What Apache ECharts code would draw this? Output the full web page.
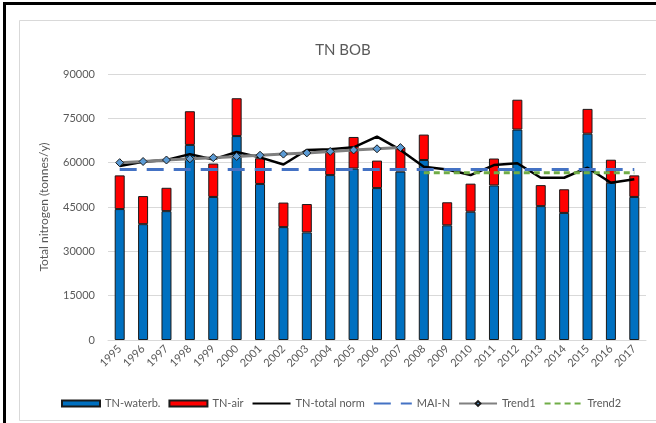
<!DOCTYPE html>
<html>
<head>
<meta charset="utf-8">
<script src="https://cdn.jsdelivr.net/npm/echarts@6/dist/echarts.min.js"></script>
<style>
  html, body { margin: 0; padding: 0; background: #fff; }
  #chart { width: 656px; height: 423px; }
</style>
</head>
<body>
<div id="chart"></div>
<script>
// years on the x axis
const years = ['1995', '1996', '1997', '1998', '1999', '2000', '2001', '2002', '2003', '2004', '2005', '2006',
  '2007', '2008', '2009', '2010', '2011', '2012', '2013', '2014', '2015', '2016', '2017'];

// stacked bars (tonnes/y)
const tnWaterb = [44300, 39200, 43600, 66000, 48400, 69000, 52800, 38200, 36400, 55800, 58000, 51400,
  57000, 60900, 38800, 43400, 52300, 71200, 45300, 43000, 69800, 53200, 48400];
const tnAir = [11400, 9500, 7900, 11400, 11300, 12800, 8700, 8300, 9600, 7900, 10700, 9300,
  8200, 8600, 7800, 9500, 9100, 10100, 7100, 8000, 8400, 7800, 7300];

// lines
const tnTotalNorm = [58900, 60300, 60900, 62900, 61100, 63600, 61800, 59400, 64300, 64500, 65200, 68800,
  64300, 58600, 57700, 55800, 59200, 59800, 54900, 54900, 58300, 53200, 54400];
const maiN = [57700, 57700, 57700, 57700, 57700, 57700, 57700, 57700, 57700, 57700, 57700, 57700,
  57700, 57700, 57700, 57700, 57700, 57700, 57700, 57700, 57700, 57700, 57700];
const trend1 = [60000, 60400, 60900, 61300, 61700, 62100, 62500, 62900, 63300, 63800, 64300, 64700,
  65100, '-', '-', '-', '-', '-', '-', '-', '-', '-', '-'];
const trend2 = ['-', '-', '-', '-', '-', '-', '-', '-', '-', '-', '-', '-',
  '-', 56600, 56600, 56600, 56600, 56600, 56600, 56600, 56600, 56600, 56600];

const yTicks = { min: 0, max: 90000, interval: 15000 };

const font = 'Lato, "Open Sans", sans-serif';
const grey = '#595959';

const chart = echarts.init(document.getElementById('chart'));

// legend entries: bars get a plain rect, lines just the stroke (no dot)
const noDot = { opacity: 0 };
const legendItems = [
  { name: 'TN-waterb.', icon: 'rect' },
  { name: 'TN-air', icon: 'rect' },
  { name: 'TN-total norm', itemStyle: noDot },
  { name: 'MAI-N', itemStyle: noDot },
  { name: 'Trend1' },
  { name: 'Trend2', itemStyle: noDot }
];

const option = {
  animation: false,
  backgroundColor: '#fff',
  textStyle: { fontFamily: font },
  title: {
    text: 'TN BOB',
    left: 338,
    textAlign: 'center',
    top: 38,
    textStyle: { fontFamily: font, fontSize: 15, fontWeight: 'normal', color: grey }
  },
  graphic: [
    // outer black frame
    { type: 'line', shape: { x1: 3, y1: 3.5, x2: 656, y2: 3.5 }, style: { stroke: '#000', lineWidth: 3 } },
    { type: 'line', shape: { x1: 4.5, y1: 2, x2: 4.5, y2: 423 }, style: { stroke: '#000', lineWidth: 3 } },
    // inner chart frame
    { type: 'rect', shape: { x: 19.5, y: 20.5, width: 700, height: 400 }, style: { fill: 'none', stroke: '#d9d9d9', lineWidth: 1 } }
  ],
  legend: {
    left: 56,
    top: 393,
    itemWidth: 38,
    itemHeight: 6,
    itemGap: 8,
    textStyle: { fontFamily: font, fontSize: 11, color: grey },
    data: legendItems
  },
  grid: { left: 108, right: 10, top: 74, bottom: 83 },
  xAxis: {
    type: 'category',
    data: years,
    axisLine: { lineStyle: { color: '#d9d9d9' } },
    axisTick: { show: false },
    axisLabel: { rotate: 45, color: grey, fontSize: 11, fontFamily: font, margin: 7 }
  },
  yAxis: {
    type: 'value',
    min: yTicks.min,
    max: yTicks.max,
    interval: yTicks.interval,
    name: 'Total nitrogen (tonnes/y)',
    nameLocation: 'middle',
    nameGap: 58,
    nameTextStyle: { color: grey, fontSize: 12, fontFamily: font },
    axisLine: { show: false },
    axisTick: { show: false },
    axisLabel: { color: grey, fontSize: 11, fontFamily: font, margin: 13, formatter: v => String(v) },
    splitLine: { lineStyle: { color: '#d9d9d9' } }
  },
  series: [
    {
      name: 'TN-waterb.',
      type: 'bar',
      stack: 'tn',
      data: tnWaterb,
      barWidth: 10,
      itemStyle: { color: '#0070c0', borderColor: '#1a1a1a', borderWidth: 1 }
    },
    {
      name: 'TN-air',
      type: 'bar',
      stack: 'tn',
      data: tnAir,
      barWidth: 10,
      itemStyle: { color: '#ff0000', borderColor: '#1a1a1a', borderWidth: 1 }
    },
    {
      name: 'TN-total norm',
      type: 'line',
      data: tnTotalNorm,
      symbol: 'none',
      lineStyle: { color: '#000', width: 2.5 },
      itemStyle: { color: '#000' }
    },
    {
      name: 'MAI-N',
      type: 'line',
      data: maiN,
      symbol: 'none',
      lineStyle: { color: '#4472c4', width: 3, type: [17, 10] },
      itemStyle: { color: '#4472c4' }
    },
    {
      name: 'Trend1',
      type: 'line',
      data: trend1,
      symbol: 'diamond',
      symbolSize: 8,
      lineStyle: { color: '#808080', width: 3 },
      itemStyle: { color: '#5b9bd5', borderColor: '#1a1a1a', borderWidth: 1 }
    },
    {
      name: 'Trend2',
      type: 'line',
      data: trend2,
      symbol: 'none',
      lineStyle: { color: '#70ad47', width: 3, type: [6, 4] },
      itemStyle: { color: '#70ad47' }
    }
  ]
};

chart.setOption(option);
</script>
</body>
</html>
